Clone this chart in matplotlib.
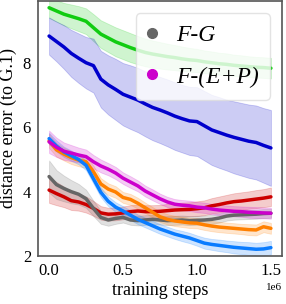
import numpy as np
import matplotlib
matplotlib.use("Agg")
import matplotlib.pyplot as plt
from matplotlib.lines import Line2D

plt.rcParams['font.family'] = ['Liberation Serif', 'DejaVu Serif']

steps = [0.00, 0.05, 0.10, 0.15, 0.20, 0.25, 0.30, 0.35, 0.40, 0.45, 0.50,
         0.55, 0.60, 0.65, 0.70, 0.75, 0.80, 0.85, 0.90, 0.95, 1.00,
         1.05, 1.10, 1.15, 1.20, 1.25, 1.30, 1.35, 1.40, 1.45, 1.50]  # x 1e6

green = [9.72, 9.62, 9.52, 9.45, 9.38, 9.30, 9.10, 8.90, 8.78, 8.66, 8.57,
         8.48, 8.40, 8.33, 8.28, 8.24, 8.20, 8.17, 8.13, 8.10, 8.08,
         8.04, 8.01, 7.98, 7.96, 7.93, 7.91, 7.89, 7.87, 7.86, 7.84]
green_err = [0.32, 0.33, 0.35, 0.37, 0.39, 0.40, 0.42, 0.43, 0.44, 0.45, 0.45,
             0.45, 0.44, 0.43, 0.42, 0.41, 0.40, 0.39, 0.38, 0.37, 0.36,
             0.35, 0.35, 0.34, 0.34, 0.33, 0.33, 0.32, 0.32, 0.32, 0.32]

blue = [8.84, 8.67, 8.50, 8.30, 8.15, 8.01, 7.92, 7.50, 7.32, 7.18, 7.03,
        6.94, 6.85, 6.73, 6.62, 6.54, 6.45, 6.35, 6.27, 6.20, 6.18,
        6.05, 5.92, 5.84, 5.76, 5.69, 5.63, 5.57, 5.53, 5.44, 5.36]
blue_err = [0.58, 0.62, 0.68, 0.73, 0.77, 0.80, 0.84, 0.88, 0.92, 0.95, 0.97,
            0.99, 1.00, 1.01, 1.02, 1.03, 1.04, 1.05, 1.05, 1.06, 1.07,
            1.08, 1.09, 1.10, 1.10, 1.12, 1.13, 1.14, 1.15, 1.16, 1.18]

magenta = [5.55, 5.38, 5.26, 5.20, 5.14, 5.09, 4.93, 4.80, 4.70, 4.58, 4.42,
           4.30, 4.18, 4.02, 3.90, 3.78, 3.68, 3.61, 3.58, 3.56, 3.52,
           3.50, 3.46, 3.43, 3.41, 3.39, 3.38, 3.36, 3.35, 3.34, 3.33]
magenta_err = [0.35, 0.30, 0.27, 0.25, 0.23, 0.22, 0.21, 0.20, 0.19, 0.19, 0.18,
               0.18, 0.17, 0.17, 0.17, 0.16, 0.16, 0.16, 0.16, 0.16, 0.16,
               0.16, 0.16, 0.16, 0.16, 0.16, 0.16, 0.17, 0.17, 0.17, 0.17]

orange = [5.58, 5.30, 5.17, 5.06, 4.98, 4.93, 4.62, 4.24, 4.08, 3.99, 3.82,
          3.76, 3.64, 3.50, 3.36, 3.22, 3.14, 3.09, 3.06, 3.03, 3.02,
          2.97, 2.93, 2.90, 2.88, 2.86, 2.84, 2.82, 2.81, 2.91, 2.86]
orange_err = [0.22, 0.21, 0.20, 0.20, 0.19, 0.19, 0.19, 0.18, 0.18, 0.18, 0.17,
              0.17, 0.17, 0.16, 0.16, 0.16, 0.16, 0.16, 0.16, 0.16, 0.16,
              0.16, 0.16, 0.16, 0.16, 0.16, 0.16, 0.17, 0.17, 0.17, 0.17]

lightblue = [5.65, 5.42, 5.24, 5.12, 5.00, 4.82, 4.40, 3.98, 3.70, 3.52, 3.40,
             3.27, 3.14, 3.04, 2.94, 2.84, 2.76, 2.68, 2.62, 2.56, 2.48,
             2.40, 2.36, 2.33, 2.30, 2.27, 2.25, 2.23, 2.21, 2.22, 2.26]
lightblue_err = [0.18, 0.17, 0.16, 0.16, 0.15, 0.15, 0.15, 0.15, 0.15, 0.15, 0.15,
                 0.15, 0.15, 0.15, 0.15, 0.15, 0.15, 0.15, 0.16, 0.16, 0.16,
                 0.17, 0.17, 0.18, 0.18, 0.19, 0.19, 0.20, 0.20, 0.21, 0.21]

gray = [4.47, 4.22, 4.10, 4.00, 3.92, 3.78, 3.48, 3.20, 3.12, 3.17, 3.20,
        3.12, 3.10, 3.12, 3.14, 3.12, 3.10, 3.11, 3.12, 3.10, 3.11,
        3.12, 3.14, 3.18, 3.24, 3.27, 3.28, 3.29, 3.30, 3.32, 3.33]
gray_err = [0.50, 0.45, 0.40, 0.36, 0.32, 0.28, 0.24, 0.20, 0.18, 0.17, 0.16,
            0.15, 0.15, 0.15, 0.14, 0.14, 0.14, 0.14, 0.14, 0.14, 0.14,
            0.14, 0.14, 0.14, 0.14, 0.14, 0.14, 0.14, 0.14, 0.14, 0.14]

red = [4.05, 3.94, 3.84, 3.72, 3.68, 3.60, 3.48, 3.34, 3.30, 3.31, 3.34,
       3.38, 3.40, 3.38, 3.38, 3.39, 3.41, 3.43, 3.44, 3.45, 3.47,
       3.50, 3.56, 3.60, 3.65, 3.69, 3.71, 3.74, 3.77, 3.80, 3.84]
red_err = [0.40, 0.36, 0.32, 0.29, 0.27, 0.25, 0.23, 0.21, 0.20, 0.20, 0.20,
           0.20, 0.20, 0.20, 0.20, 0.20, 0.21, 0.21, 0.22, 0.22, 0.23,
           0.23, 0.24, 0.25, 0.25, 0.26, 0.27, 0.27, 0.28, 0.28, 0.29]

legend_labels = ["F-G", "F-(E+P)"]

series = [
    (green, green_err, '#11cc11'),
    (blue, blue_err, '#0000cc'),
    (red, red_err, '#cc0000'),
    (gray, gray_err, '#666666'),
    (orange, orange_err, '#ff8000'),
    (lightblue, lightblue_err, '#0a7cff'),
    (magenta, magenta_err, '#cc00cc'),
]

fig = plt.figure(figsize=(2.86, 3.04), dpi=100)
ax = fig.add_axes([38/286, 1-256/304, (282-38)/286, (256-1)/304])

x = np.array(steps) * 1e6
for vals, err, col in series:
    v = np.array(vals)
    e = np.array(err)
    ax.fill_between(x, v - e, v + e, color=col, alpha=0.2, lw=0.6)
    ax.plot(x, v, color=col, lw=2.5, solid_capstyle='round', solid_joinstyle='round')

ax.set_ylim(2, 9.93)
ax.set_yticks([2, 4, 6, 8])
ax.set_xticks([0, 0.5e6, 1.0e6, 1.5e6])
ax.tick_params(length=0, labelsize=12, pad=5)
ax.xaxis.get_offset_text().set_fontsize(8)
ax.set_xlabel("training steps", fontsize=13, labelpad=2)
ax.set_ylabel("distance error (to G.1)", fontsize=13, labelpad=4)
for s in ax.spines.values():
    s.set_color('#555555')
    s.set_linewidth(1.2)

handles = [Line2D([], [], ls='none', marker='o', ms=7, color='#666666'),
           Line2D([], [], ls='none', marker='o', ms=7, color='#cc00cc')]
leg = ax.legend(handles, legend_labels, loc='upper right',
                prop={'family': 'Liberation Serif', 'style': 'italic', 'size': 17},
                handlelength=0.4, handletextpad=0.8, borderpad=0.5,
                labelspacing=0.85, framealpha=0.8, edgecolor='#dddddd')

fig.savefig("out.png", dpi=100)
